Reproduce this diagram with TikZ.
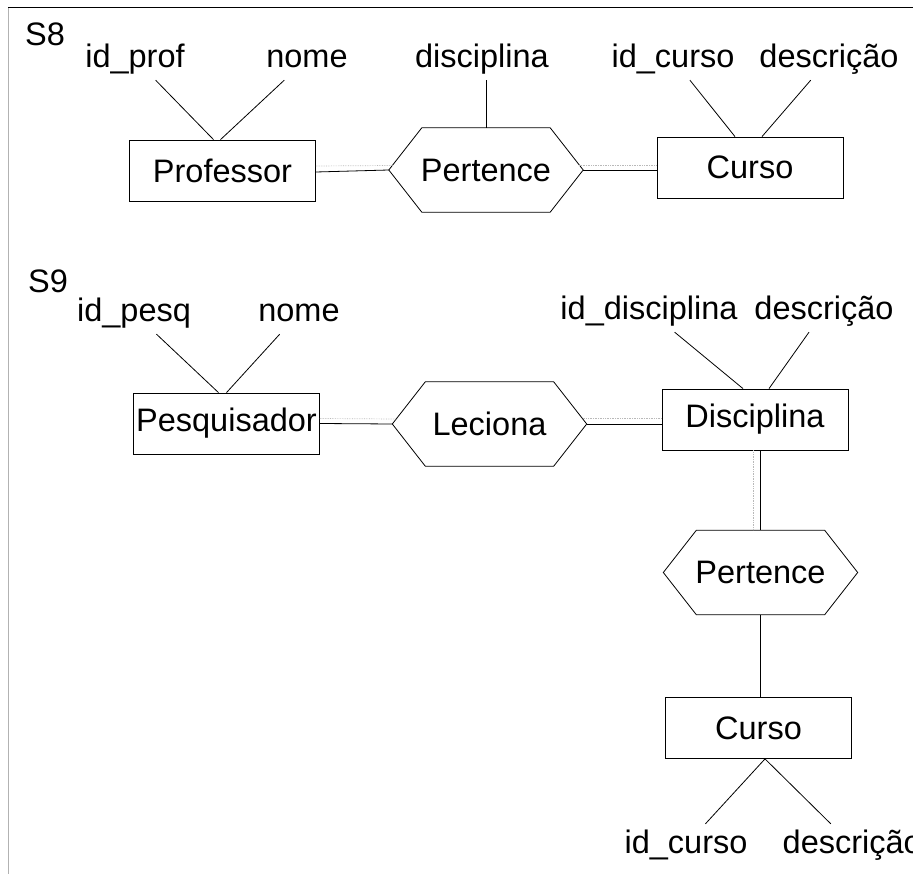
\documentclass[tikz,border=0pt]{standalone}
\usepackage{fontspec}
\setmainfont{Liberation Sans}
\usetikzlibrary{calc}
\begin{document}
\begin{tikzpicture}[x=1pt,y=-1pt,
  every node/.style={font=\fontsize{32.5}{38}\selectfont},
  entity/.style={draw, line width=0.8pt, minimum width=186pt, minimum height=61pt, inner sep=0pt},
  relation/.style={minimum width=194pt, minimum height=84pt, inner sep=0pt},
  attr/.style={inner sep=5.5pt, text height=24pt, text depth=7pt},
  tag/.style={inner sep=0pt, anchor=base west},
  link/.style={line width=0.8pt},
  shadowlink/.style={line width=0.7pt, gray!55, densely dotted},
  frame/.style={line width=0.8pt}]
\useasboundingbox (0,0) rectangle (913,874);

% hexagonal outline for relationship nodes
\newcommand{\hexframe}[1]{%
  \draw[link] (#1.west) -- ([xshift=33pt]#1.north west) -- ([xshift=-33pt]#1.north east)
    -- (#1.east) -- ([xshift=-33pt]#1.south east) -- ([xshift=33pt]#1.south west) -- cycle;}

% frame
\draw[frame, gray!60] (8,874) -- (8,7);
\draw[frame] (8,7) -- (913,7);

% ---- S8 ----
\node[tag] (s8) at (25,46) {S8};
\node[attr] (idprof) at (135,59) {id\_prof};
\node[attr] (nome1) at (307,59) {nome};
\node[attr] (disc1) at (482,59) {disciplina};
\node[attr] (idcurso1) at (673,59) {id\_curso};
\node[attr] (desc1) at (829,59) {descrição};
\node[entity] (prof) at (222.5,170.5) {Professor};
\node[relation] (pert1) at (486,170) {Pertence};
\node[entity] (curso1) at (750,167.5) {Curso};
\hexframe{pert1}

\draw[link] (idprof) -- ([xshift=-9pt]prof.north);
\draw[link] (nome1) -- ([xshift=-2pt]prof.north);
\draw[link] (disc1.south -| pert1.north) -- (pert1.north);
\draw[link] (idcurso1) -- ([xshift=-15pt]curso1.north);
\draw[link] (desc1) -- ([xshift=12pt]curso1.north);
\draw[link] ([yshift=-1.5pt]prof.east) -- (pert1.west);
\draw[shadowlink] ([yshift=4.5pt]prof.east) -- ([shift={(4pt,4.5pt)}]pert1.west);
\draw[link] (pert1.east) -- (pert1.east -| curso1.west);
\draw[shadowlink] ([shift={(-4pt,5pt)}]pert1.east) -- ($(pert1.east -| curso1.west)+(0,-5)$);

% ---- S9 ----
\node[tag] (s9) at (28,293) {S9};
\node[attr] (idpesq) at (134,313) {id\_pesq};
\node[attr] (nome2) at (299,313) {nome};
\node[attr] (iddisc) at (649,311) {id\_disciplina};
\node[attr] (desc2) at (824,311) {descrição};
\node[entity] (pesq) at (226.5,423.5) {Pesquisador};
\node[relation] (lec) at (489.5,424) {Leciona};
\node[entity] (disc2) at (755,419.5) {Disciplina};
\node[relation] (pert2) at (760.5,572.5) {Pertence};
\node[entity] (curso2) at (758.5,728) {Curso};
\node[attr] (idcurso2) at (686,845) {id\_curso};
\node[attr, anchor=west] (desc3) at (777,845) {descrição};
\hexframe{lec}
\hexframe{pert2}

\draw[link] (idpesq) -- ([xshift=-8pt]pesq.north);
\draw[link] (nome2) -- (pesq.north);
\draw[link] (iddisc) -- ([xshift=-12pt]disc2.north);
\draw[link] (desc2) -- ([xshift=14pt]disc2.north);
\draw[link] (pesq.east) -- (lec.west);
\draw[shadowlink] ([yshift=5pt]pesq.east) -- ([shift={(4pt,5pt)}]lec.west);
\draw[link] (lec.east) -- (lec.east -| disc2.west);
\draw[shadowlink] ([shift={(-4pt,6pt)}]lec.east) -- ($(lec.east -| disc2.west)+(0,-6)$);
\draw[link] (disc2.south -| pert2.north) -- (pert2.north);
\draw[shadowlink] ($(disc2.south -| pert2.north)+(-7,0)$) -- ($(pert2.north)+(-7,0)$);
\draw[link] (pert2.south) -- (pert2.south |- curso2.north);
\draw[link] ([xshift=6.5pt]curso2.south) -- (idcurso2);
\draw[link] ([xshift=6.5pt]curso2.south) -- (desc3);
\end{tikzpicture}
\end{document}
